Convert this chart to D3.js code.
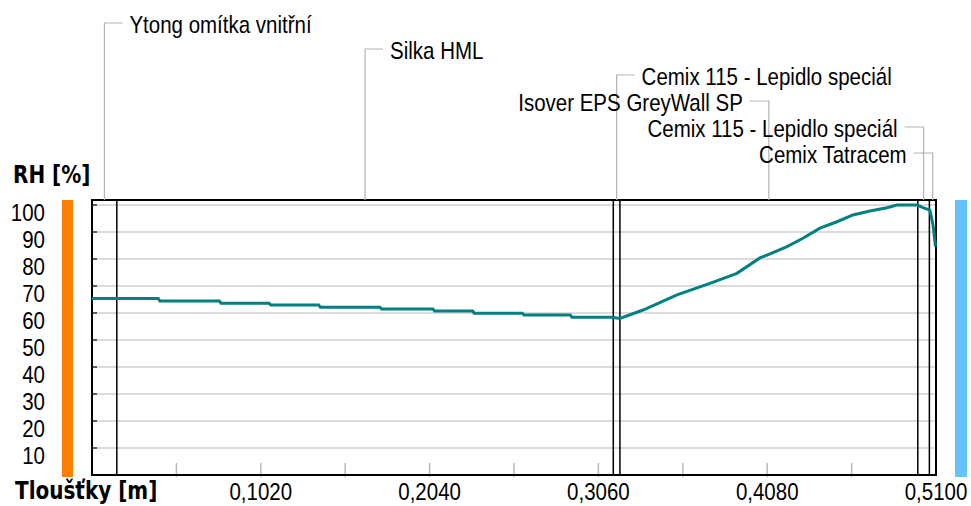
<!DOCTYPE html>
<html>
<head>
<meta charset="utf-8">
<script src="https://cdnjs.cloudflare.com/ajax/libs/d3/7.8.5/d3.min.js"></script>
<style>
  body { margin: 0; background: #fff; }
  svg { display: block; }
</style>
</head>
<body>
<div id="chart"></div>
<script>
// Layers of the wall (from inside to outside)
const layerNames = ["Ytong omítka vnitřní", "Silka HML", "Cemix 115 - Lepidlo speciál",
                    "Isover EPS GreyWall SP", "Cemix 115 - Lepidlo speciál", "Cemix Tatracem"];
const layerThickness = [0.015, 0.300, 0.004, 0.180, 0.007, 0.004];

// Axis ticks
const xTicks = [0.102, 0.204, 0.306, 0.408, 0.510];
const xMinorTicks = [0.051, 0.102, 0.153, 0.204, 0.255, 0.306, 0.357, 0.408, 0.459];
const yTicks = [10, 20, 30, 40, 50, 60, 70, 80, 90, 100];

// Relative humidity profile: position [m] and RH [%]
const rhPos = [0.000, 0.040, 0.041, 0.077, 0.078, 0.107, 0.108, 0.137, 0.138, 0.174,
               0.175, 0.206, 0.207, 0.230, 0.231, 0.260, 0.261, 0.289, 0.290, 0.314,
               0.319, 0.333, 0.3535, 0.3734, 0.3897, 0.4036, 0.4097, 0.4200, 0.4296, 0.4399,
               0.4502, 0.4598, 0.4701, 0.4804, 0.4864, 0.4985, 0.5021, 0.5063, 0.5082, 0.5097];
const rhValues = [65.4, 65.4, 64.4, 64.4, 63.6, 63.6, 63.0, 63.0, 62.1, 62.1,
                  61.5, 61.5, 60.7, 60.7, 59.9, 59.9, 59.3, 59.3, 58.4, 58.4,
                  58.0, 61.1, 66.7, 71.0, 74.7, 80.4, 81.9, 84.6, 87.7, 91.4,
                  93.8, 96.3, 97.8, 99.0, 100.0, 100.0, 99.0, 98.1, 92.6, 84.6];

const width = 971, height = 506;
const plot = { left: 92, right: 936, top: 200, bottom: 475 };

const svg = d3.select("#chart")
    .append("svg")
    .attr("width", width)
    .attr("height", height);

// scales
const x = d3.scaleLinear()
    .domain([0, d3.sum(layerThickness)])
    .range([plot.left, plot.right]);

const y = d3.scaleLinear()
    .domain([0, 100])
    .range([plot.bottom, 205]);

const font = "'Liberation Sans', Arial, sans-serif";

// text helper - the original font is a bit taller than Arial so stretch it
function addText(px, py, str, anchor, bold) {
    return svg.append("text")
        .attr("transform", `translate(${px},${py}) scale(1,1.2)`)
        .attr("text-anchor", anchor)
        .style("font-family", bold ? "'DejaVu Sans', sans-serif" : font)
        .style("font-weight", bold ? "bold" : "normal")
        .style("font-size", bold ? "20px" : "20.5px")
        .attr("fill", "#000")
        .text(str);
}

// side colour bars (interior / exterior)
svg.append("rect")
    .attr("x", 62).attr("y", plot.top)
    .attr("width", 11).attr("height", plot.bottom - plot.top + 2)
    .attr("fill", "#ff8000");

svg.append("rect")
    .attr("x", 955).attr("y", plot.top)
    .attr("width", 12).attr("height", plot.bottom - plot.top + 2)
    .attr("fill", "#63c3ff");

// horizontal grid lines
svg.selectAll(".grid")
    .data(yTicks)
    .enter()
    .append("line")
    .attr("x1", plot.left).attr("x2", plot.right)
    .attr("y1", d => y(d)).attr("y2", d => y(d))
    .attr("stroke", "#d0d0d0")
    .attr("stroke-width", 1.5);

// small dark stubs on the left edge
svg.selectAll(".ystub")
    .data(yTicks)
    .enter()
    .append("line")
    .attr("x1", plot.left).attr("x2", plot.left + 5)
    .attr("y1", d => y(d)).attr("y2", d => y(d))
    .attr("stroke", "#333")
    .attr("stroke-width", 1.5);

// minor ticks on the bottom
svg.selectAll(".xminor")
    .data(xMinorTicks)
    .enter()
    .append("line")
    .attr("x1", d => x(d)).attr("x2", d => x(d))
    .attr("y1", plot.bottom - 12).attr("y2", plot.bottom + 2)
    .attr("stroke", "#b8b8b8")
    .attr("stroke-width", 1.5);

// layer boundaries
const bounds = d3.cumsum(layerThickness).slice(0, -1);
svg.selectAll(".bound")
    .data(bounds)
    .enter()
    .append("line")
    .attr("x1", d => x(d)).attr("x2", d => x(d))
    .attr("y1", plot.top).attr("y2", plot.bottom)
    .attr("stroke", "#000")
    .attr("stroke-width", 1.5);

// frame
svg.append("rect")
    .attr("x", plot.left).attr("y", plot.top)
    .attr("width", plot.right - plot.left)
    .attr("height", plot.bottom - plot.top)
    .attr("fill", "none")
    .attr("stroke", "#000")
    .attr("stroke-width", 2);

// RH line
const line = d3.line()
    .x((d, i) => x(rhPos[i]))
    .y(d => y(d));

svg.append("path")
    .datum(rhValues)
    .attr("fill", "none")
    .attr("stroke", "#008080")
    .attr("stroke-width", 3)
    .attr("d", line);

// layer name labels with leader lines
const starts = [0, ...bounds];
layerNames.forEach((name, i) => {
    const cx = x(starts[i] + layerThickness[i] / 2);
    const ly = 23 + i * 26;
    const leftSide = cx > 700; // labels near the right edge go to the left
    const hx = leftSide ? cx - 19 : cx + 18;

    svg.append("path")
        .attr("d", `M${cx},${plot.top}V${ly}H${hx}`)
        .attr("fill", "none")
        .attr("stroke", "#b4b4b4")
        .attr("stroke-width", 1.2);

    if (leftSide) addText(cx - 26, ly + 10, name, "end", false);
    else addText(cx + 25, ly + 10, name, "start", false);
});

// y tick labels
yTicks.forEach(v => addText(45, y(v) + 16, v, "end", false));

// x tick labels (comma decimal) - keep them inside the bottom edge
xTicks.forEach(v => addText(x(v), 500, v.toFixed(4).replace(".", ","), "middle", false));

// axis titles
addText(13, 183, "RH [%]", "start", true);
addText(15, 499, "Tloušťky [m]", "start", true);
</script>
</body>
</html>
